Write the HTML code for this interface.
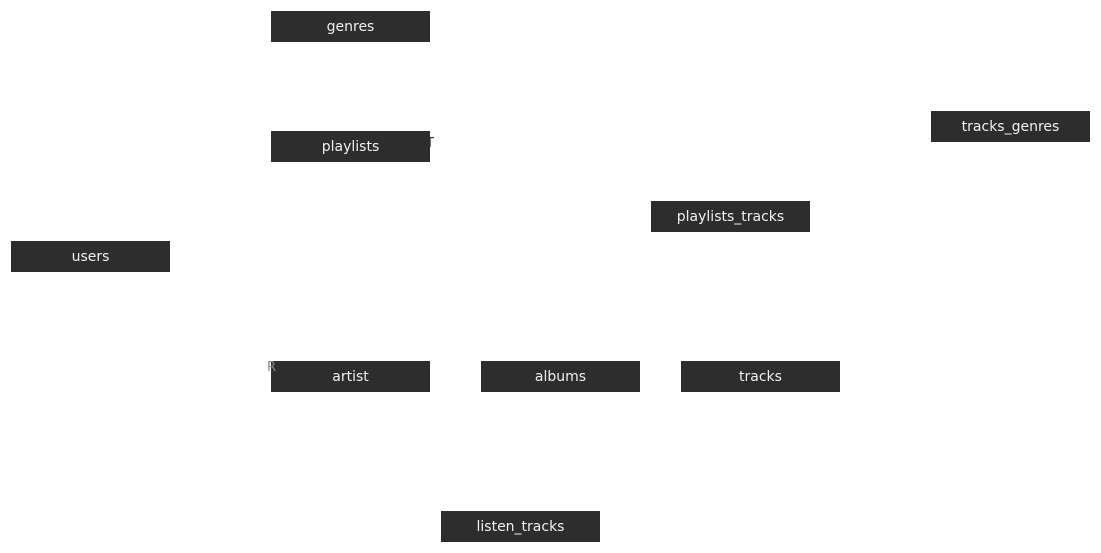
<!DOCTYPE html>
<html><head><style>
body{margin:0;width:1101px;height:553px;background:#fff;position:relative;overflow:hidden;font-family:"DejaVu Sans","Liberation Sans",sans-serif}
.b{position:absolute;width:159px;height:31px;background:#2d2d2d;color:#f0f0f0;font-size:14px;line-height:32px;text-align:center}
.m{position:absolute;color:#f0f0f0;font-size:13px}
</style></head><body>
<div class="b" style="left:271px;top:11px">genres</div>
<div class="b" style="left:271px;top:131px">playlists</div>
<div class="b" style="left:931px;top:111px">tracks_genres</div>
<div class="b" style="left:651px;top:201px">playlists_tracks</div>
<div class="b" style="left:11px;top:241px">users</div>
<div class="b" style="left:271px;top:361px">artist</div>
<div class="b" style="left:481px;top:361px">albums</div>
<div class="b" style="left:681px;top:361px">tracks</div>
<div class="b" style="left:441px;top:511px">listen_tracks</div>
<div class="m" style="left:426px;top:136px;color:#2d2d2d">T</div>
<div class="m" style="left:267px;top:360px;color:#888">R</div>
</body></html>
